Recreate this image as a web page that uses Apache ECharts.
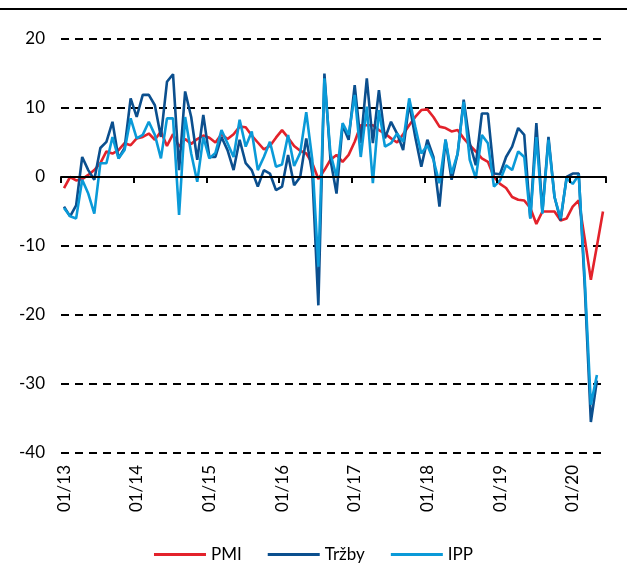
<!DOCTYPE html>
<html>
<head>
<meta charset="utf-8">
<script src="https://cdn.jsdelivr.net/npm/echarts@6/dist/echarts.min.js"></script>
<style>
  html, body { margin: 0; padding: 0; background: #fff; }
  #chart { width: 627px; height: 564px; }
</style>
</head>
<body>
<div id="chart"></div>
<script>
// months 01/13 .. 06/20
const months = [];
for (let y = 13; y <= 20; y++) {
  for (let m = 1; m <= 12; m++) {
    if (y === 20 && m > 6) break;
    months.push((m < 10 ? '0' + m : '' + m) + '/' + y);
  }
}

const pmi = [
  -1.6, 0.0, -0.5, -0.3, 0.3, 1.0, 2.0, 3.7, 3.4, 3.9, 4.9, 4.6,
  5.6, 5.8, 6.3, 5.4, 6.6, 4.5, 6.2, 4.4, 5.5, 4.8, 5.5, 6.0,
  5.7, 5.0, 6.2, 5.5, 6.2, 7.3, 7.2, 6.0, 5.0, 4.0, 4.5, 5.7,
  6.8, 5.7, 4.5, 3.8, 3.4, 2.0, -0.3, 1.0, 2.5, 3.2, 2.2, 3.2,
  5.1, 7.5, 7.5, 7.5, 6.8, 6.3, 5.6, 5.0, 6.2, 7.5, 8.7, 9.7,
  9.8, 8.7, 7.3, 7.1, 6.6, 6.8, 5.6, 4.6, 3.7, 2.7, 2.2, 0.0,
  -1.0, -1.6, -2.9, -3.3, -3.4, -4.5, -6.8, -5.0, -5.0, -5.0, -6.3, -6.0,
  -4.3, -3.4, -9.0, -14.9, -10.0, -5.0
];

const trzby = [
  -4.3, -5.7, -4.1, 2.9, 1.0, -0.4, 4.2, 5.1, 8.0, 2.7, 4.2, 11.4,
  8.7, 11.9, 11.9, 10.4, 5.8, 13.8, 14.9, 1.0, 12.4, 8.7, 2.5, 9.0,
  2.9, 2.9, 5.8, 3.9, 1.0, 5.4, 2.0, 1.0, -1.4, 1.0, 0.5, -1.9,
  -1.4, 3.2, -1.2, 0.0, 5.6, 0.5, -18.6, 15.0, 2.5, -2.4, 7.5, 5.4,
  13.3, 4.9, 14.3, 4.9, 12.6, 5.6, 8.0, 6.3, 3.9, 10.7, 5.8, 1.5,
  5.4, 2.9, -4.3, 5.4, -0.4, 3.4, 11.2, 4.9, 1.7, 9.2, 9.2, 0.5,
  0.4, 2.9, 4.4, 7.1, 6.1, -6.0, 7.8, -5.0, 5.8, -2.9, -6.3, 0.0,
  0.5, 0.5, -16.0, -35.5, -29.5, null
];

const ipp = [
  -4.5, -5.7, -6.0, -0.4, -2.4, -5.3, 2.0, 2.0, 5.8, 2.7, 3.9, 8.5,
  5.6, 6.1, 8.0, 6.1, 2.7, 8.5, 8.5, -5.5, 8.7, 3.4, -0.7, 5.8,
  2.7, 3.5, 6.8, 4.9, 2.9, 8.3, 4.4, 6.6, 1.0, 2.9, 5.1, 1.5,
  1.8, 6.1, 1.6, 3.5, 9.4, 2.5, -13.0, 14.3, 3.4, 0.0, 7.8, 6.1,
  11.9, 2.9, 10.2, -0.9, 9.7, 4.4, 4.9, 6.3, 5.1, 11.4, 7.3, 3.4,
  4.6, 2.5, -0.9, 5.4, 0.5, 3.4, 10.9, 2.5, -0.2, 6.1, 4.9, -1.4,
  -0.5, 1.7, 1.0, 3.7, 2.9, -6.0, 5.8, -5.3, 5.4, -2.9, -6.0, -0.2,
  -1.0, 0.3, -15.0, -33.0, -28.7, null
];

const FONT = 'Lato';
const chart = echarts.init(document.getElementById('chart'));

const lineSeries = (name, data, color) => ({
  name: name,
  type: 'line',
  data: data,
  xAxisIndex: 0,
  showSymbol: false,
  symbol: 'none',
  lineStyle: { color: color, width: 2.6 },
  itemStyle: { color: color },
  animation: false
});

chart.setOption({
  animation: false,
  textStyle: { fontFamily: FONT },
  grid: { left: 61, right: 21, top: 39, bottom: 111 },
  graphic: [{
    type: 'line',
    shape: { x1: 0, y1: 9, x2: 627, y2: 9 },
    style: { stroke: '#000', lineWidth: 2 }
  }],
  legend: {
    top: 541,
    left: 'center',
    icon: 'rect',
    itemWidth: 52,
    itemHeight: 3,
    itemGap: 26,
    textStyle: { fontFamily: FONT, fontSize: 17, color: '#000' },
    data: ['PMI', 'Tržby', 'IPP']
  },
  xAxis: [{
    type: 'category',
    data: months,
    boundaryGap: true,
    z: 5,
    axisLine: { show: true, onZero: true, lineStyle: { color: '#000', width: 2 } },
    axisTick: { show: true, inside: false, interval: 11, length: 6, lineStyle: { color: '#000', width: 2 } },
    axisLabel: { show: false },
    splitLine: { show: false }
  }, {
    type: 'category',
    data: months,
    boundaryGap: true,
    position: 'bottom',
    axisLine: { show: false, onZero: false },
    axisTick: { show: false },
    axisLabel: {
      interval: 11,
      rotate: 90,
      margin: 12,
      fontSize: 17,
      color: '#000',
      fontFamily: FONT
    }
  }],
  yAxis: {
    type: 'value',
    min: -40,
    max: 20,
    interval: 10,
    axisLine: { show: false },
    axisTick: { show: false },
    axisLabel: { fontSize: 17, color: '#000', margin: 16, fontFamily: FONT },
    splitLine: { lineStyle: { color: '#000', width: 2, type: [8, 6] } }
  },
  series: [
    lineSeries('PMI', pmi, '#e3222b'),
    lineSeries('Tržby', trzby, '#0b4f8e'),
    lineSeries('IPP', ipp, '#0a9ad8')
  ]
});
</script>
</body>
</html>
